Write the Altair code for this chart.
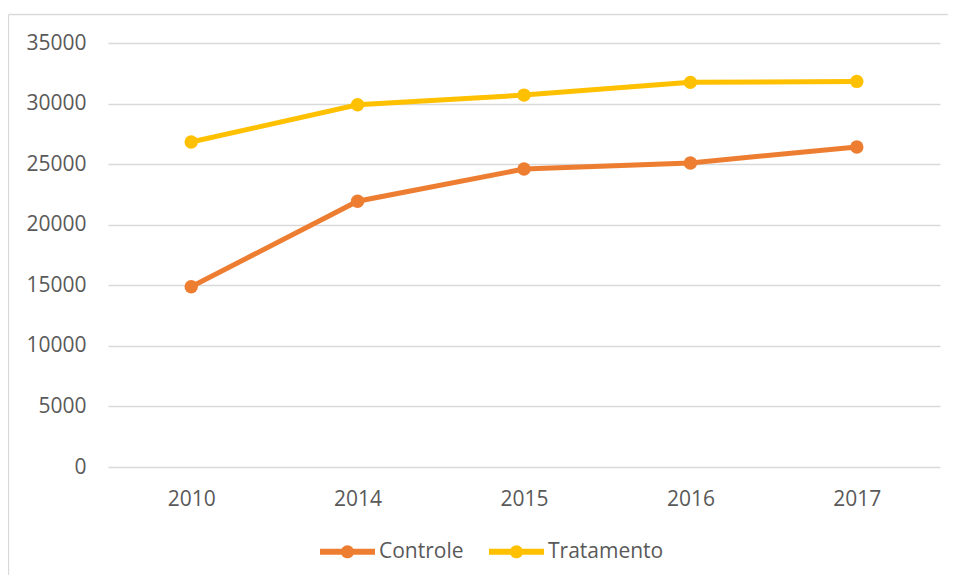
import altair as alt
import pandas as pd

years = ["2010", "2014", "2015", "2016", "2017"]
controle = [14880, 21940, 24600, 25100, 26420]
tratamento = [26830, 29900, 30700, 31750, 31830]
series = ["Controle", "Tratamento"]
colors = ["#ED7D31", "#FFC000"]

rows = []
for y, c, t in zip(years, controle, tratamento):
    rows.append({"Ano": y, "Série": "Controle", "Valor": c})
    rows.append({"Ano": y, "Série": "Tratamento", "Valor": t})
df = pd.DataFrame(rows)

FONT = "Open Sans"
GRAY = "#595959"
FS = 21

legend_path = ("M-1,-0.11L1,-0.11L1,0.11L-1,0.11Z "
               "M-0.24,0A0.24,0.24 0 1,1 0.24,0A0.24,0.24 0 1,1 -0.24,0Z")

color = alt.Color(
    "Série:N",
    scale=alt.Scale(domain=series, range=colors),
    legend=alt.Legend(
        title=None, orient="none", direction="horizontal",
        legendX=212, legendY=481, padding=0,
        symbolType=legend_path, symbolSize=3025, symbolStrokeWidth=0,
        symbolOpacity=1,
        labelFont=FONT, labelFontSize=FS, labelColor=GRAY, labelOffset=4,
        columnPadding=25,
    ),
)

xscale = alt.Scale(type="point", padding=0.5)
x_axis = alt.X("Ano:N", sort=years, title=None, scale=xscale,
               axis=alt.Axis(labelAngle=0, ticks=False, domain=False, grid=False,
                             labelFont=FONT, labelFontSize=FS, labelColor=GRAY,
                             labelPadding=21))
y = alt.Y("Valor:Q", title=None,
          scale=alt.Scale(domain=[0, 35000], nice=False),
          axis=alt.Axis(values=list(range(0, 35001, 5000)), format="d",
                        ticks=False, domain=False, gridColor="#d9d9d9",
                        gridWidth=1.3, labelFont=FONT, labelFontSize=FS,
                        labelColor=GRAY, labelPadding=22))

one = pd.DataFrame({"a": [0]})
frame_top = alt.Chart(one).mark_rule(stroke="#d9d9d9", strokeWidth=1.3, clip=False).encode(
    x=alt.value(-99.5), x2=alt.value(840), y=alt.value(-28.5))
frame_left = alt.Chart(one).mark_rule(stroke="#d9d9d9", strokeWidth=1.3, clip=False).encode(
    x=alt.value(-99.5), y=alt.value(-28.5), y2=alt.value(532))

lines = alt.Chart(df).mark_line(strokeWidth=5).encode(
    x=x_axis,
    y=y,
    color=color,
)
points = alt.Chart(df).mark_point(filled=True, size=180, opacity=1).encode(
    x=alt.X("Ano:N", sort=years, title=None, scale=xscale),
    y=alt.Y("Valor:Q"),
    color=alt.Color("Série:N"),
)

chart = alt.layer(frame_top, frame_left, lines, points).properties(
    width=832, height=424,
    autosize=alt.AutoSizeParams(type="none"),
    padding={"left": 100, "top": 35, "right": 8, "bottom": 108},
).configure_view(strokeWidth=0, stroke=None)

chart.save("out.html", embed_options={"renderer": "svg", "actions": False})
